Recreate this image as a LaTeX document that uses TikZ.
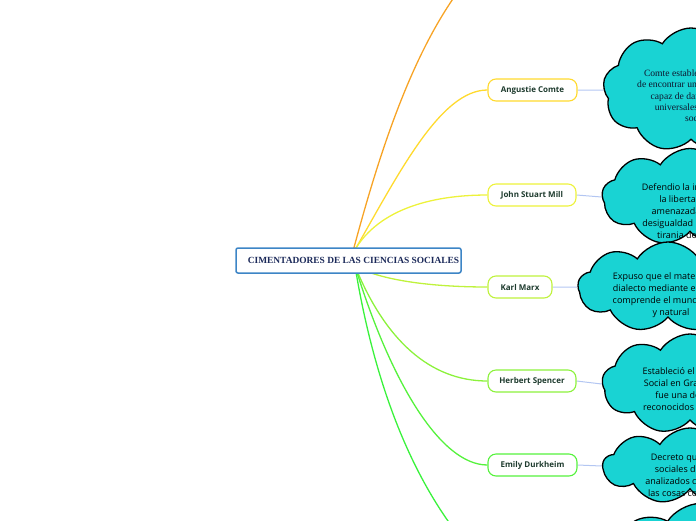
\documentclass[tikz,border=0pt]{standalone}
\usepackage{fontspec}
\setmainfont{Liberation Serif}
\newfontfamily\osans{Open Sans}
\usetikzlibrary{shapes.symbols,backgrounds}
\definecolor{hubblue}{HTML}{3D85C6}
\definecolor{navytxt}{HTML}{1C2A5A}
\definecolor{leaftxt}{HTML}{1E3B2E}
\definecolor{cloudcyan}{HTML}{19D3D3}
\definecolor{linkblue}{HTML}{B3C6F2}
\definecolor{orangeb}{HTML}{F7A325}
\definecolor{comtec}{HTML}{FFDA2E}
\definecolor{millc}{HTML}{EDF23A}
\definecolor{marxc}{HTML}{BFF23C}
\definecolor{spencerc}{HTML}{8CF23C}
\definecolor{durkc}{HTML}{55F23C}
\definecolor{lastc}{HTML}{3AF23C}
\tikzstyle{topic}=[draw=hubblue,line width=1.5pt,rounded corners=2pt,fill=white,minimum width=225pt,minimum height=25pt,inner sep=0pt,font=\fontsize{9.4}{10}\selectfont\bfseries,text=navytxt]
\tikzstyle{leaf}=[rounded corners=8pt,fill=white,line width=1.1pt,minimum height=22pt,inner sep=0pt,font=\osans\bfseries\fontsize{8}{9}\selectfont,text=leaftxt]
\tikzstyle{bubble}=[cloud,cloud puffs=9,cloud puff arc=115,draw=black,line width=1.3pt,fill=cloudcyan,inner sep=0pt]
\tikzstyle{bubbletext}=[align=center,inner sep=0pt,font=\osans\fontsize{9}{12}\selectfont,text=black]
\tikzstyle{branch}=[line width=1.3pt]
\tikzstyle{link}=[draw=linkblue,line width=1pt]

\begin{document}
\begin{tikzpicture}[x=1pt,y=-1pt]
    \clip (0,0) rectangle (696,520);
    \node (cc) [topic] at (348.5,260.5) {\hspace*{10pt}CIMENTADORES DE LAS CIENCIAS SOCIALES};
    \coordinate (up) at (352,255);
    \coordinate (dn) at (355,266);
    \coordinate (top) at (490,-45);
    \coordinate (bot) at (500,580);

    \node (comte) [leaf,draw=comtec,minimum width=89pt] at (532.5,90) {Angustie Comte};
    \node (mill) [leaf,draw=millc,minimum width=88pt] at (532,195) {John Stuart Mill};
    \node (marx) [leaf,draw=marxc,minimum width=64pt] at (520,287) {Karl Marx};
    \node (spencer) [leaf,draw=spencerc,minimum width=88pt] at (532,381) {Herbert Spencer};
    \node (durk) [leaf,draw=durkc,minimum width=89pt] at (532.5,465) {Emily Durkheim};

    % clouds
    \node (cA) [bubble,minimum width=176pt,minimum height=124pt] at (691,90) {};
    \node (tA) [bubbletext,font=\fontsize{9.6}{11.3}\selectfont,text=navytxt!50!black] at (702,96) {Comte estableció la necesidad\\de encontrar un método científico\\capaz de dar explicaciones\\universales de la vida en\\sociedad};
    \node (cB) [bubble,minimum width=176pt,minimum height=97pt] at (690,197) {};
    \node (tB) [bubbletext] at (700,212) {Defendio la individualidad y\\la libertad como un\\amenazada por la gran\\desigualdad económica y la\\tirania de la mayoría};
    \node (cC) [bubble,minimum width=180pt,minimum height=90pt] at (668,287) {};
    \node (tC) [bubbletext] at (671,295) {Expuso que el materialismo\\dialecto mediante el cual se\\comprende el mundo social\\y natural};
    \node (cD) [bubble,minimum width=176pt,minimum height=100pt] at (690,384) {};
    \node (tD) [bubbletext] at (695,390) {Estableció el Darwinismo\\Social en Gran Bretaña y\\fue una de los más\\reconocidos de su época};
    \node (cF) [bubble,minimum width=200pt,minimum height=145pt] at (700,576) {};
    \node (cE) [bubble,minimum width=174pt,minimum height=76pt] at (690,466) {};
    \node (tE) [bubbletext] at (700,476) {Decreto que los hechos\\sociales deben de ser\\analizados como si fueran\\las cosas con objetividad};

    \begin{pgfonlayer}{background}
    \draw[branch,orangeb] (up) .. controls (380,150) and (420,20) .. (top);
    \draw[branch,comtec] (up) .. controls (398,175) and (440,90) .. (comte.west);
    \draw[branch,millc] (up) .. controls (375,210) and (430,195) .. (mill.west);
    \draw[branch,marxc] (dn) .. controls (380,280) and (430,287) .. (marx.west);
    \draw[branch,spencerc] (dn) .. controls (385,340) and (430,381) .. (spencer.west);
    \draw[branch,durkc] (dn) .. controls (390,380) and (440,465) .. (durk.west);
    \draw[branch,lastc] (dn) .. controls (372,370) and (410,500) .. (bot);

    \draw[link] (comte.east) -- (cA.west);
    \draw[link] (mill.east) -- (cB.west);
    \draw[link] (marx.east) -- (cC.west);
    \draw[link] (spencer.east) -- (cD.west);
    \draw[link] (durk.east) -- (cE.west);
    \end{pgfonlayer}
\end{tikzpicture}
\end{document}
